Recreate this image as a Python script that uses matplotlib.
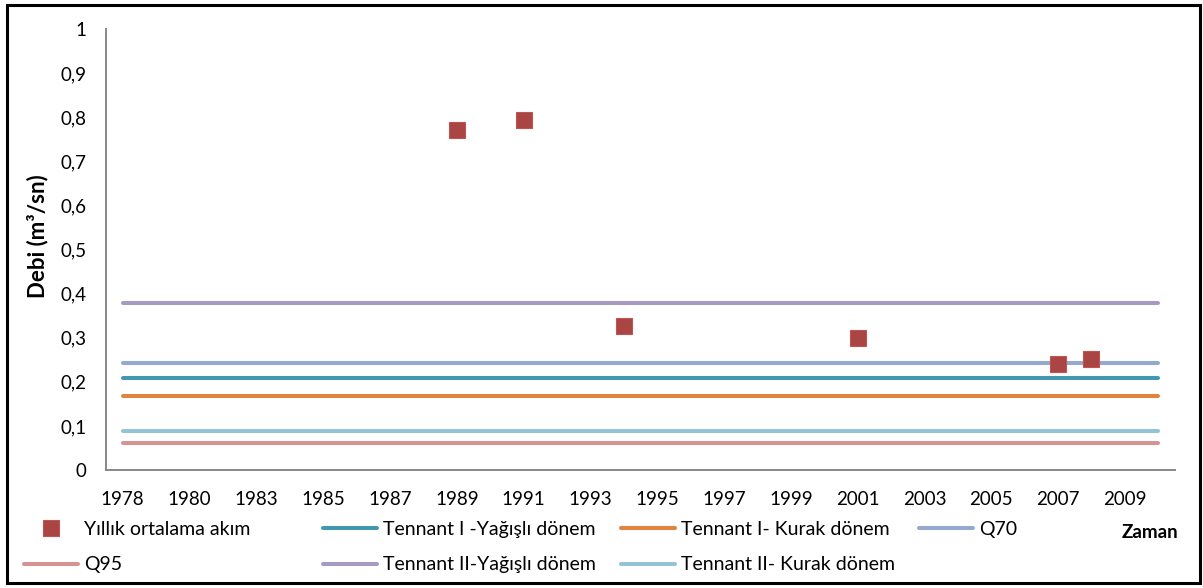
import matplotlib
matplotlib.use("Agg")
import matplotlib.pyplot as plt
from matplotlib.patches import Rectangle

plt.rcParams['font.family'] = ['Lato', 'DejaVu Sans']

# Category axis (years), labels shown every other category
categories = [1978, 1979, 1980, 1982, 1983, 1984, 1985, 1986, 1987, 1988,
              1989, 1990, 1991, 1992, 1993, 1994, 1995, 1996, 1997, 1998,
              1999, 2000, 2001, 2002, 2003, 2004, 2005, 2006, 2007, 2008,
              2009, 2010]

# Annual mean flow points
flow_years = [1989, 1991, 1994, 2001, 2007, 2008]
flow_values = [0.771, 0.794, 0.326, 0.299, 0.241, 0.252]

# Constant threshold series
tennant1_wet = 0.209
tennant1_dry = 0.168
q70 = 0.243
q95 = 0.062
tennant2_wet = 0.379
tennant2_dry = 0.089

y_ticks = [0, 0.1, 0.2, 0.3, 0.4, 0.5, 0.6, 0.7, 0.8, 0.9, 1]
y_ticklabels = ['0', '0,1', '0,2', '0,3', '0,4', '0,5', '0,6', '0,7', '0,8', '0,9', '1']

W, H = 1203, 588
FS = 13.5
LFS = 14
fig = plt.figure(figsize=(W / 100, H / 100), dpi=100)
ax = fig.add_axes([106 / W, (H - 470) / H, (1175 - 106) / W, (470 - 29) / H])

idx = list(range(len(categories)))
flow_idx = [categories.index(y) for y in flow_years]

lw = 2.9
h_pts, = ax.plot(flow_idx, flow_values, linestyle='none', marker='s', markersize=11,
                 markerfacecolor='#A94543', markeredgecolor='#C05452', markeredgewidth=0.8,
                 label='Yıllık ortalama akım', zorder=5)

series = [
    (tennant1_wet, '#4198AF', 'Tennant I -Yağışlı dönem'),
    (tennant1_dry, '#E2843E', 'Tennant I- Kurak dönem'),
    (q70, '#93A9D0', 'Q70'),
    (q95, '#D69392', 'Q95'),
    (tennant2_wet, '#A899C3', 'Tennant II-Yağışlı dönem'),
    (tennant2_dry, '#94C3D7', 'Tennant II- Kurak dönem'),
]
handles = {}
for val, col, lab in series:
    h, = ax.plot(idx, [val] * len(idx), color=col, linewidth=lw,
                 solid_capstyle='round', label=lab, zorder=3)
    handles[lab] = h

ax.set_xlim(-0.5, len(categories) - 0.5)
ax.set_ylim(0, 1)
ax.set_yticks(y_ticks)
ax.set_yticklabels(y_ticklabels)
ax.set_xticks(idx[::2])
ax.set_xticklabels([str(c) for c in categories[::2]])
ax.tick_params(axis='both', length=0, labelsize=FS, colors='black')
ax.tick_params(axis='x', pad=15)
ax.tick_params(axis='y', pad=14)
for s in ['top', 'right']:
    ax.spines[s].set_visible(False)
for s in ['left', 'bottom']:
    ax.spines[s].set_color('#888888')
    ax.spines[s].set_linewidth(1.4)

ax.set_ylabel('Debi (m³/sn)', fontsize=16, fontweight='bold')
ax.yaxis.set_label_coords(-(106 - 48) / (1175 - 106), (470 - 236) / 441)

# Legend: four columns, two rows
cols = [
    ([h_pts, handles['Q95']], 24),
    ([handles['Tennant I -Yağışlı dönem'], handles['Tennant II-Yağışlı dönem']], 323),
    ([handles['Tennant I- Kurak dönem'], handles['Tennant II- Kurak dönem']], 621),
    ([handles['Q70']], 919),
]
for hs, x0 in cols:
    fig.legend(handles=hs, labels=[h.get_label() for h in hs],
               loc='upper left', bbox_to_anchor=(x0 / W, (H - 521) / H),
               frameon=False, fontsize=LFS, handlelength=54 * 0.72 / LFS,
               handletextpad=0.3, labelspacing=0.95, borderpad=0,
               borderaxespad=0)

fig.text(1150 / W, (H - 533) / H, 'Zaman', fontsize=FS, fontweight='bold',
         ha='center', va='center')

fig.patches.append(Rectangle((7 / W, 5 / H), (1200 - 7) / W, (583 - 5) / H,
                             transform=fig.transFigure, fill=False,
                             edgecolor='black', linewidth=2.2))

fig.savefig('out.png', dpi=100)
